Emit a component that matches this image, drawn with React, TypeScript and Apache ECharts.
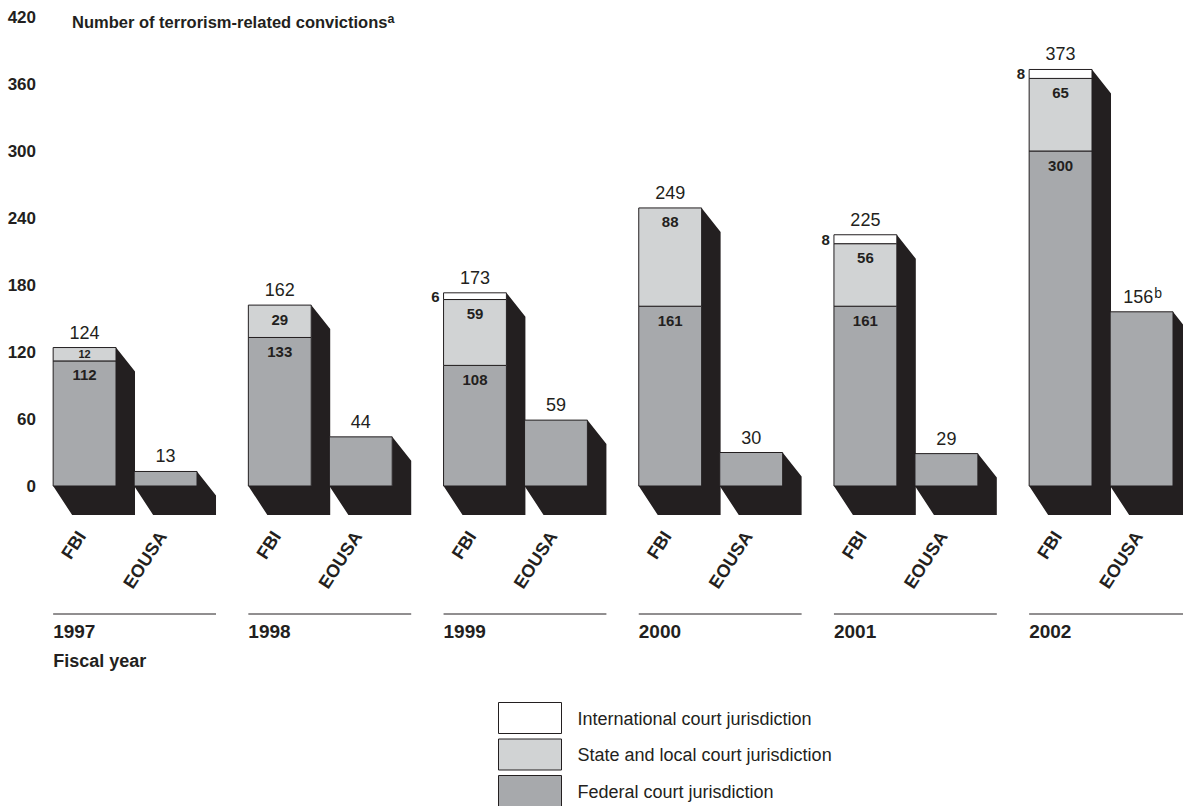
import React, { useEffect, useRef } from 'react';
import * as echarts from 'echarts';

// ---------- data ----------
const years = ['1997', '1998', '1999', '2000', '2001', '2002'];
const agencies = ['FBI', 'EOUSA'];
const fbiFederal = [112, 133, 108, 161, 161, 300];
const fbiState = [12, 29, 59, 88, 56, 65];
const fbiInternational = [0, 0, 6, 0, 8, 8];
const fbiTotals = [124, 162, 173, 249, 225, 373];
const eousaTotals = [13, 44, 59, 30, 29, 156];
const eousaNotes = ['', '', '', '', '', 'b'];
const legendLabels = [
  'International court jurisdiction',
  'State and local court jurisdiction',
  'Federal court jurisdiction',
];
const yTitle = 'Number of terrorism-related convictions';
const yTitleNote = 'a';
const xTitle = 'Fiscal year';

// ---------- styles ----------
const FONT = '"Liberation Sans", Arial, Helvetica, sans-serif';
const INK = '#231f20';
const FED = '#a7a9ac';
const STATE = '#d1d3d4';
const INTL = '#ffffff';
const SHADOW = '#231f20';
const BAR_W = 0.322; // in x-axis units
const EOUSA_OFFSET = 0.415; // in x-axis units
const DX = 19;
const DY_TOP = 24;
const DY_BOT = 29;
const YEAR_LINE_Y = 614;
const YEAR_TEXT_Y = 631;
const AGENCY_Y = 533;
const AGENCY_ROT = (57 * Math.PI) / 180;

function shadowPolygon(left: number, right: number, yTop: number, y0: number) {
  return {
    type: 'polygon',
    shape: {
      points: [
        [left, y0],
        [left + DX, y0 + DY_BOT],
        [right + DX, y0 + DY_BOT],
        [right + DX, yTop + DY_TOP],
        [right, yTop],
        [right, y0],
      ],
    },
    style: { fill: SHADOW, stroke: null },
  };
}

function segRect(left: number, right: number, yA: number, yB: number, fill: string) {
  return {
    type: 'rect',
    shape: { x: left, y: yB, width: right - left, height: yA - yB },
    style: { fill, stroke: INK, lineWidth: 1 },
  };
}

function txt(x: number, y: number, text: string, font: string, align = 'center', vAlign = 'middle', extra: any = {}) {
  return {
    type: 'text',
    x,
    y,
    ...extra,
    style: { text, font, fill: INK, align, verticalAlign: vAlign },
  };
}

function renderFbi(params: any, api: any) {
  const i = api.value(0);
  const fed = api.value(1);
  const st = api.value(2);
  const intl = api.value(3);
  const total = api.value(4);
  const halfW = api.size([BAR_W, 0])[0] / 2;
  const [cx, y0] = api.coord([i, 0]);
  const left = cx - halfW;
  const right = cx + halfW;
  const yFed = api.coord([i, fed])[1];
  const ySt = api.coord([i, fed + st])[1];
  const yTop = api.coord([i, fed + st + intl])[1];
  const eousaRight = api.coord([i + EOUSA_OFFSET, 0])[0] + halfW;

  const children: any[] = [shadowPolygon(left, right, yTop, y0)];
  children.push(segRect(left, right, y0, yFed, FED));
  if (st > 0) children.push(segRect(left, right, yFed, ySt, STATE));
  if (intl > 0) children.push(segRect(left, right, ySt, yTop, INTL));

  // segment labels
  children.push(txt(cx, yFed + 14, String(fed), `bold 15px ${FONT}`));
  if (st > 0) {
    if (yFed - ySt < 22) {
      children.push(txt(cx, (yFed + ySt) / 2, String(st), `bold 11px ${FONT}`));
    } else {
      children.push(txt(cx, ySt + 14, String(st), `bold 15px ${FONT}`));
    }
  }
  if (intl > 0) {
    children.push(txt(left - 4, (ySt + yTop) / 2, String(intl), `bold 15px ${FONT}`, 'right'));
  }
  children.push(txt(cx, yTop - 15, String(total), `18px ${FONT}`));

  // agency label
  children.push(
    txt(cx - 3, AGENCY_Y, agencies[0], `bold 18px ${FONT}`, 'right', 'middle', { rotation: AGENCY_ROT })
  );
  // year line and label
  children.push({
    type: 'line',
    shape: { x1: left, y1: YEAR_LINE_Y, x2: eousaRight + DX, y2: YEAR_LINE_Y },
    style: { stroke: INK, lineWidth: 1 },
  });
  children.push(txt(left, YEAR_TEXT_Y, years[i], `bold 19px ${FONT}`, 'left'));
  if (i === 0) {
    children.push(txt(left, 661, xTitle, `bold 18px ${FONT}`, 'left'));
  }
  return { type: 'group', children };
}

function renderEousa(params: any, api: any) {
  const i = api.value(0);
  const total = api.value(1);
  const note = eousaNotes[i];
  const halfW = api.size([BAR_W, 0])[0] / 2;
  const [cx, y0] = api.coord([i + EOUSA_OFFSET, 0]);
  const left = cx - halfW;
  const right = cx + halfW;
  const yTop = api.coord([i + EOUSA_OFFSET, total])[1];
  const children: any[] = [shadowPolygon(left, right, yTop, y0), segRect(left, right, y0, yTop, FED)];
  if (note) {
    children.push({
      type: 'text',
      x: cx + 1,
      y: yTop - 15,
      style: {
        text: `${total}{sup|${note}}`,
        font: `18px ${FONT}`,
        fill: INK,
        align: 'center',
        verticalAlign: 'middle',
        lineHeight: 22,
        rich: { sup: { fontSize: 14, fontFamily: FONT, fill: INK, verticalAlign: 'top', lineHeight: 14, padding: [0, 0, 0, 1] } },
      },
    });
  } else {
    children.push(txt(cx, yTop - 15, String(total), `18px ${FONT}`));
  }
  children.push(
    txt(cx - 3, AGENCY_Y, agencies[1], `bold 18px ${FONT}`, 'right', 'middle', { rotation: AGENCY_ROT })
  );
  return { type: 'group', children };
}

export default function App() {
  const ref = useRef<HTMLDivElement>(null);
  useEffect(() => {
    if (!ref.current) return;
    const chart = echarts.init(ref.current, undefined, { renderer: 'svg' });
    const fbiData = years.map((_, i) => [i, fbiFederal[i], fbiState[i], fbiInternational[i], fbiTotals[i]]);
    const eousaData = years.map((_, i) => [i, eousaTotals[i]]);
    const legendColors = [INTL, STATE, FED];
    const option: any = {
      animation: false,
      backgroundColor: '#ffffff',
      textStyle: { fontFamily: FONT },
      title: {
        text: `{t|${yTitle}}{s|${yTitleNote}}`,
        left: 72,
        top: 12,
        padding: 0,
        textStyle: {
          rich: {
            t: { fontSize: 16.5, fontWeight: 'bold', fontFamily: FONT, color: INK, lineHeight: 20 },
            s: { fontSize: 12.5, fontWeight: 'bold', fontFamily: FONT, color: INK, verticalAlign: 'top', lineHeight: 12 },
          },
        },
      },
      grid: { left: 6.5, width: 1171.2, top: 17, height: 469 },
      xAxis: { type: 'value', min: -0.4, max: 5.6, show: false },
      yAxis: {
        type: 'value',
        min: 0,
        max: 420,
        interval: 60,
        axisLine: { show: false },
        axisTick: { show: false },
        splitLine: { show: false },
        axisLabel: {
          inside: true,
          align: 'right',
          margin: 29.5,
          fontWeight: 'bold',
          fontSize: 17,
          fontFamily: FONT,
          color: INK,
        },
      },
      series: [
        { type: 'custom', name: 'FBI', renderItem: renderFbi, data: fbiData, clip: false, z: 2 },
        { type: 'custom', name: 'EOUSA', renderItem: renderEousa, data: eousaData, clip: false, z: 3 },
      ],
      graphic: legendLabels.map((label, k) => ({
        type: 'group',
        left: 498,
        top: 702 + k * 36.5,
        children: [
          {
            type: 'rect',
            shape: { x: 0, y: 0, width: 63, height: 31 },
            style: { fill: legendColors[k], stroke: INK, lineWidth: 1 },
          },
          {
            type: 'text',
            x: 79,
            y: 16,
            style: { text: label, font: `18px ${FONT}`, fill: INK, align: 'left', verticalAlign: 'middle' },
          },
        ],
      })),
    };
    chart.setOption(option);
    return () => chart.dispose();
  }, []);
  return (
    <div
      ref={ref}
      style={{ position: 'fixed', left: 0, top: 0, width: 1183, height: 806, background: '#fff' }}
    />
  );
}
